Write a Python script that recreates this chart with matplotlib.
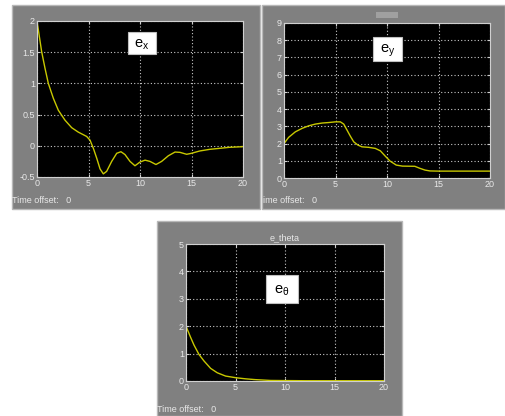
import matplotlib
matplotlib.use("Agg")
import matplotlib.pyplot as plt
from matplotlib.patches import Rectangle

plt.rcParams['font.family'] = ['Liberation Sans', 'DejaVu Sans']
plt.rcParams['axes.unicode_minus'] = False

# e_x readings
ex_t = [0, 0.45, 0.78, 1.1, 1.59, 2.07, 2.72, 3.37, 4.0, 4.82, 5.15, 5.47, 5.8, 6.12,
        6.44, 6.76, 7.25, 7.74, 8.15, 8.54, 9.03, 9.51, 10.0, 10.49, 10.97, 11.55,
        12.1, 12.75, 13.4, 13.88, 14.53, 15.0, 15.8, 16.8, 17.77, 18.7, 19.87, 20]
ex_v = [2.0, 1.51, 1.24, 1.0, 0.76, 0.57, 0.41, 0.29, 0.22, 0.15, 0.09, -0.04, -0.2, -0.37,
        -0.45, -0.41, -0.25, -0.12, -0.095, -0.14, -0.25, -0.32, -0.26, -0.23, -0.25, -0.30,
        -0.25, -0.16, -0.10, -0.105, -0.136, -0.12, -0.083, -0.056, -0.04, -0.024, -0.015, -0.012]

# e_y readings
ey_t = [0, 0.45, 1.1, 1.75, 2.4, 3.04, 3.69, 4.34, 4.98, 5.47, 5.8, 6.12, 6.44, 6.77,
        7.18, 7.57, 8.22, 8.86, 9.35, 9.83, 10.3, 10.9, 11.5, 12.7, 13.2, 13.69, 14.17,
        15.0, 17.5, 20]
ey_v = [2.0, 2.36, 2.68, 2.88, 3.03, 3.13, 3.19, 3.22, 3.26, 3.26, 3.13, 2.78, 2.43, 2.1,
        1.91, 1.81, 1.78, 1.72, 1.58, 1.27, 0.98, 0.75, 0.69, 0.68, 0.56, 0.46, 0.41,
        0.40, 0.40, 0.40]

# e_theta readings
eth_t = [0, 0.47, 0.81, 1.31, 1.82, 2.49, 3.16, 4.0, 5.02, 6.0, 7.0, 8.55, 12, 16, 20]
eth_v = [2.0, 1.59, 1.31, 0.97, 0.73, 0.46, 0.30, 0.18, 0.12, 0.08, 0.05, 0.02, 0.01, 0.01, 0.01]

W, H = 505, 416
fig = plt.figure(figsize=(W / 100, H / 100), dpi=100)
fig.patch.set_facecolor('white')


def px_rect(x0, y0, x1, y1):
    # pixel box (top-left origin) -> figure fraction [l, b, w, h]
    return [x0 / W, 1 - y1 / H, (x1 - x0) / W, (y1 - y0) / H]


def panel(x0, y0, x1, y1):
    l, b, w, h = px_rect(x0, y0, x1, y1)
    fig.add_artist(Rectangle((l, b), w, h, transform=fig.transFigure,
                             facecolor='#808080', edgecolor='#b8b8b8', lw=1.0, zorder=-10))


def label_box(x0, y0, x1, y1, txt):
    l, b, w, h = px_rect(x0, y0, x1, y1)
    fig.add_artist(Rectangle((l, b), w, h, transform=fig.transFigure,
                             facecolor='white', edgecolor='#c0c0c0', lw=0.8, zorder=5))
    fig.text(l + w / 2, b + h / 2 - 2 / H, txt, ha='center', va='center', fontsize=10.5,
             color='black', zorder=6)


def scope_axes(box, t, v, ylim, yticks, ylabels):
    ax = fig.add_axes(px_rect(*box))
    ax.set_facecolor('black')
    ax.plot(t, v, color='#c8c800', lw=1.0)
    ax.set_xlim(0, 20)
    ax.set_ylim(*ylim)
    ax.set_xticks([0, 5, 10, 15, 20])
    ax.set_xticklabels(['0', '5', '10', '15', '20'])
    ax.set_yticks(yticks)
    ax.set_yticklabels(ylabels)
    ax.grid(True, color='#c8c8c8', lw=0.8, linestyle=(0, (1, 2)))
    ax.tick_params(direction='in', length=2, color='#d0d0d0', labelcolor='#e8e8e8',
                   labelsize=6.5, pad=1.5, top=True, right=True)
    for s in ax.spines.values():
        s.set_color('#d0d0d0')
        s.set_linewidth(0.8)
    return ax


# gray scope panels
panel(12, 5, 260, 209)
panel(262, 5, 505, 209)
panel(157, 221, 402, 416)

# small title placeholder in the e_y scope
l, b, w, h = px_rect(376, 12, 398, 18)
fig.add_artist(Rectangle((l, b), w, h, transform=fig.transFigure,
                         facecolor='#a0a0a0', edgecolor='none', zorder=-5))

scope_axes((37, 21, 243, 177), ex_t, ex_v, (-0.5, 2),
           [-0.5, 0, 0.5, 1, 1.5, 2], ['-0.5', '0', '0.5', '1', '1.5', '2'])
scope_axes((284, 23, 490, 178), ey_t, ey_v, (0, 9),
           list(range(10)), [str(i) for i in range(10)])
ax3 = scope_axes((186, 244, 384, 381), eth_t, eth_v, (0, 5),
                 list(range(6)), [str(i) for i in range(6)])
ax3.set_title('e_theta', color='#e8e8e8', fontsize=6.5, pad=3)

label_box(128, 32, 156, 54, r'$\mathregular{e_x}$')
label_box(373, 37, 402, 61, r'$\mathregular{e_y}$')
label_box(266, 275, 298, 303, r'$\mathregular{e_{\theta}}$')

fig.text(12 / W, 1 - 201 / H, 'Time offset:   0', fontsize=6.5, color='#e8e8e8', va='center')
fig.text(263 / W, 1 - 201 / H, 'ime offset:   0', fontsize=6.5, color='#e8e8e8', va='center')
fig.text(157 / W, 1 - 409 / H, 'Time offset:   0', fontsize=6.5, color='#e8e8e8', va='center')

fig.savefig('out.png', dpi=100, facecolor='white')
